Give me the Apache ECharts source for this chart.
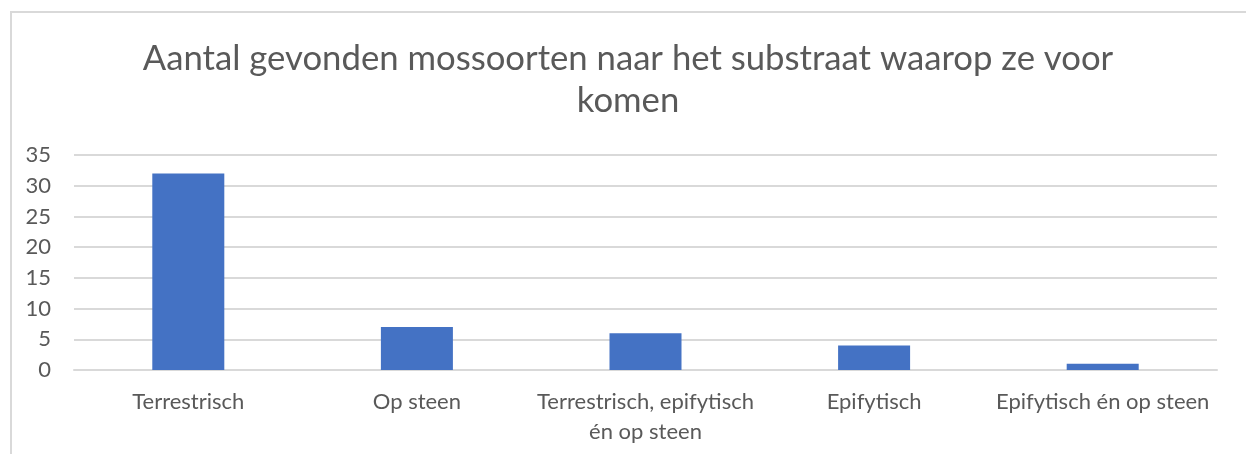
<!DOCTYPE html>
<html lang="nl">
<head>
    <meta charset="UTF-8">
    <title>Aantal gevonden mossoorten</title>
    <script src="https://cdn.jsdelivr.net/npm/echarts@6.0.0/dist/echarts.min.js"></script>
    <style>
        html, body {
            margin: 0;
            padding: 0;
            background: #fff;
            overflow: hidden;
        }
        #frame {
            position: absolute;
            left: 10px;
            top: 11px;
            width: 1250px;
            height: 460px;
            border: 2px solid #d9d9d9;
        }
        #chartContainer {
            position: absolute;
            left: 0;
            top: 0;
            width: 1246px;
            height: 454px;
        }
    </style>
</head>
<body>
    <div id="frame"></div>
    <div id="chartContainer"></div>

    <script>
        // categorieën en aantallen
        const categories = [
            'Terrestrisch',
            'Op steen',
            'Terrestrisch, epifytisch\nén op steen',
            'Epifytisch',
            'Epifytisch én op steen'
        ];
        const counts = [32, 7, 6, 4, 1];
        const yTicks = [0, 5, 10, 15, 20, 25, 30, 35];

        const chart = echarts.init(document.getElementById('chartContainer'), null, { renderer: 'canvas' });

        const textColor = '#595959';
        const fontFamily = 'Lato, "Open Sans", sans-serif';

        const option = {
            animation: false,
            title: {
                text: 'Aantal gevonden mossoorten naar het substraat waarop ze voor\nkomen',
                left: 623,
                top: 33,
                textAlign: 'center',
                textStyle: {
                    color: textColor,
                    fontFamily: fontFamily,
                    fontWeight: 'normal',
                    fontSize: 34.7,
                    lineHeight: 42
                }
            },
            grid: {
                left: 74,
                right: 29,
                top: 155,
                bottom: 84
            },
            xAxis: {
                type: 'category',
                data: categories,
                axisLine: { show: true, lineStyle: { color: '#d9d9d9', width: 2 } },
                axisTick: { show: false },
                axisLabel: {
                    color: textColor,
                    fontFamily: fontFamily,
                    fontSize: 22,
                    lineHeight: 30,
                    margin: 17,
                    interval: 0
                }
            },
            yAxis: {
                type: 'value',
                min: yTicks[0],
                max: yTicks[yTicks.length - 1],
                interval: 5,
                axisLine: { show: false },
                axisTick: { show: false },
                splitLine: { lineStyle: { color: '#d9d9d9', width: 2 } },
                axisLabel: {
                    color: textColor,
                    fontFamily: fontFamily,
                    fontSize: 22,
                    margin: 23
                }
            },
            series: [{
                name: 'Aantal',
                type: 'bar',
                data: counts,
                barWidth: '31.5%',
                itemStyle: { color: '#4472c4' }
            }]
        };

        chart.setOption(option);
    </script>
</body>
</html>
